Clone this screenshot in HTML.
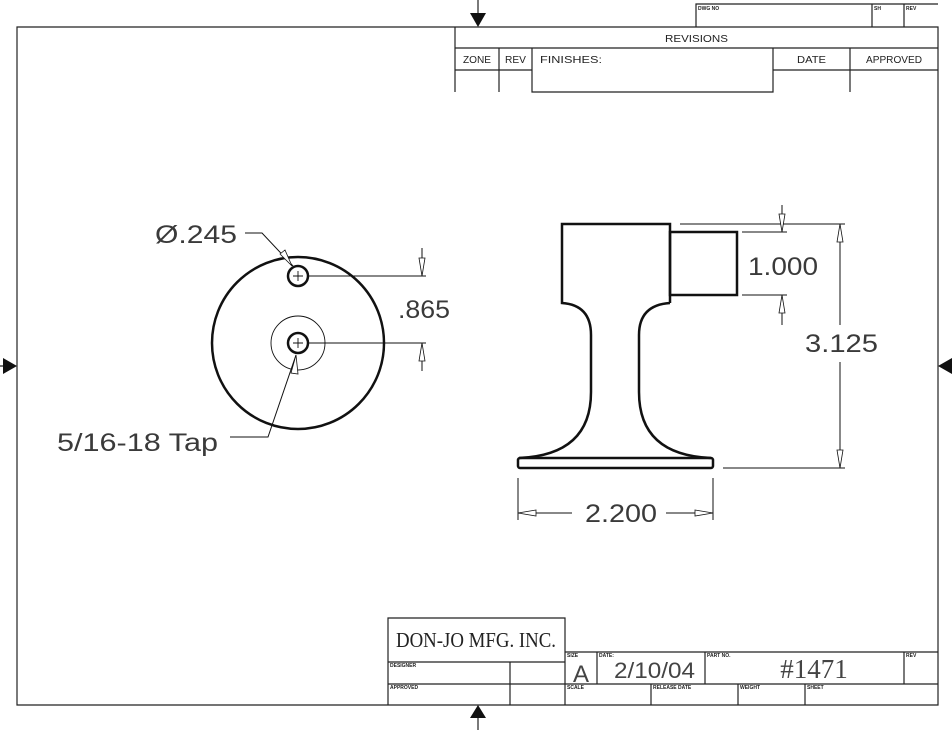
<!DOCTYPE html>
<html><head><meta charset="utf-8"><style>
html,body{margin:0;padding:0;background:#fff}
svg{display:block}
text{font-family:"Liberation Sans",sans-serif;fill:#222}
.t{font-size:10px}
.s{font-size:5px;font-weight:bold}
.d{font-size:25px;fill:#3a3a3a}
</style></head><body>
<svg width="952" height="730" viewBox="0 0 952 730" xmlns="http://www.w3.org/2000/svg">
<g fill="none" stroke="#222" stroke-width="1.2">
<path d="M17 27 H938 V705 H17 Z"/>
<path d="M696 27 V4 H938 M872 4 V27 M904 4 V27"/>
<path d="M455 27 V92 M455 48 H938 M455 70 H532 M773 70 H938 M499 48 V92 M532 48 V92 H773 V48 M850 48 V92"/>
<path d="M388 705 V618 H565 V705 M388 662 H565 M388 684 H938 M510 662 V705 M565 652 H938 M597 652 V684 M705 652 V684 M904 652 V684 M651 684 V705 M738 684 V705 M805 684 V705"/>
<path d="M478 0 V14 M478 730 V716 M0 366 H6"/>
</g>
<g fill="#111">
<polygon points="470,13 486,13 478,27"/>
<polygon points="470,718 486,718 478,705"/>
<polygon points="3,358 3,374 17,366"/>
<polygon points="952,358 952,374 938,366"/>
</g>
<text x="665" y="42" class="t" textLength="63" lengthAdjust="spacingAndGlyphs">REVISIONS</text>
<text x="463" y="63" class="t" textLength="28" lengthAdjust="spacingAndGlyphs">ZONE</text>
<text x="505" y="63" class="t" textLength="21" lengthAdjust="spacingAndGlyphs">REV</text>
<text x="540" y="63" class="t" textLength="62" lengthAdjust="spacingAndGlyphs">FINISHES:</text>
<text x="797" y="63" class="t" textLength="29" lengthAdjust="spacingAndGlyphs">DATE</text>
<text x="866" y="63" class="t" textLength="56" lengthAdjust="spacingAndGlyphs">APPROVED</text>
<text x="698" y="10" class="s">DWG NO</text>
<text x="874" y="10" class="s">SH</text>
<text x="906" y="10" class="s">REV</text>
<text x="476" y="647" style="font-family:'Liberation Serif',serif;font-size:21px" text-anchor="middle" textLength="160" lengthAdjust="spacingAndGlyphs">DON-JO MFG. INC.</text>
<text x="390" y="667" class="s">DESIGNER</text>
<text x="390" y="689" class="s">APPROVED</text>
<text x="567" y="657" class="s">SIZE</text>
<text x="599" y="657" class="s">DATE:</text>
<text x="707" y="657" class="s">PART NO.</text>
<text x="906" y="657" class="s">REV</text>
<text x="567" y="689" class="s">SCALE</text>
<text x="653" y="689" class="s">RELEASE DATE</text>
<text x="740" y="689" class="s">WEIGHT</text>
<text x="807" y="689" class="s">SHEET</text>
<text x="581" y="682" style="font-size:24px;fill:#444" text-anchor="middle">A</text>
<text x="614" y="678" style="font-size:22px;fill:#444" textLength="81" lengthAdjust="spacingAndGlyphs">2/10/04</text>
<text x="814" y="678" style="font-family:'Liberation Serif',serif;font-size:27px;fill:#444" text-anchor="middle">#1471</text>

<g fill="none" stroke="#111">
<circle cx="298" cy="343" r="86" stroke-width="2.5"/>
<circle cx="298" cy="343" r="27" stroke-width="0.9"/>
<circle cx="298" cy="276" r="10" stroke-width="2.5"/>
<circle cx="298" cy="343" r="10" stroke-width="2.5"/>
<path d="M293 276 H303 M298 271 V281 M293 343 H303 M298 338 V348" stroke-width="0.9"/>
<path d="M309 276 H426 M309 343 H426 M422 248 V276 M422 343 V371" stroke-width="1"/>
<path d="M245 233 H262 L293 266 M230 437 H268 L296 355" stroke-width="1"/>
<path d="M419 258 L422 276 L425 258 Z M419 361 L422 343 L425 361 Z M280 254 L292 266 L285 250 Z M291 373 L296 355 L298 374 Z" stroke-width="0.8" fill="#fff"/>
</g>
<text x="155" y="243" class="d" textLength="82" lengthAdjust="spacingAndGlyphs">Ø.245</text>
<text x="398" y="318" class="d" textLength="52" lengthAdjust="spacingAndGlyphs">.865</text>
<text x="57" y="451" class="d" textLength="161" lengthAdjust="spacingAndGlyphs">5/16-18 Tap</text>

<g fill="none" stroke="#111" stroke-width="2.5">
<path d="M670 303 V224 H562 V303 Q591 305 591 335 V392 Q591 455 519 458"/>
<path d="M670 303 Q639 305 639 335 V392 Q639 455 711 458"/>
<rect x="670" y="232" width="67" height="63"/>
<rect x="518" y="458" width="195" height="10" rx="2"/>
</g>
<g fill="none" stroke="#111" stroke-width="1">
<path d="M680 224 H845 M723 468 H845 M742 232 H787 M742 295 H787 M782 205 V232 M782 295 V325"/>
<path d="M840 224 V325 M840 362 V468"/>
<path d="M518 478 V520 M713 478 V520 M518 513 H572 M666 513 H713"/>
<path d="M779 214 L782 232 L785 214 Z M779 313 L782 295 L785 313 Z M837 242 L840 224 L843 242 Z M837 450 L840 468 L843 450 Z M536 510 L518 513 L536 516 Z M695 510 L713 513 L695 516 Z" fill="#fff" stroke-width="0.8"/>
</g>
<text x="748" y="275" class="d" textLength="70" lengthAdjust="spacingAndGlyphs">1.000</text>
<text x="805" y="352" class="d" textLength="73" lengthAdjust="spacingAndGlyphs">3.125</text>
<text x="585" y="522" class="d" textLength="72" lengthAdjust="spacingAndGlyphs">2.200</text>
</svg>
</body></html>
